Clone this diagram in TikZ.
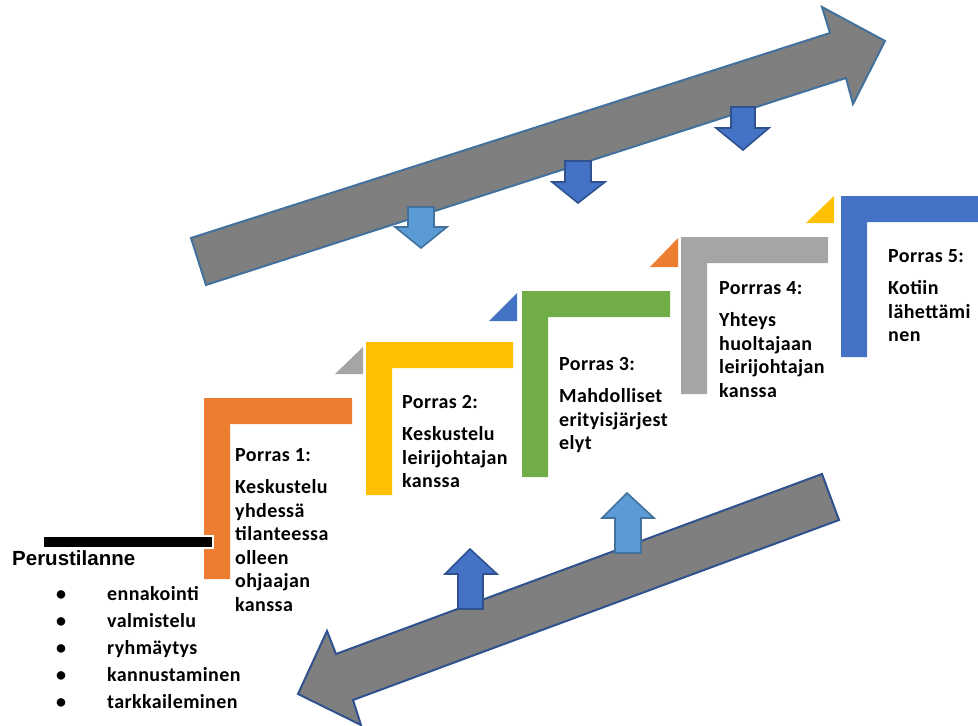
\documentclass[tikz,border=0pt]{standalone}
\usepackage{fontspec}
\setmainfont[LetterSpace=2]{Carlito}
\newfontfamily\arialfont{Liberation Sans}

\definecolor{stepOrange}{HTML}{ED7D31}
\definecolor{stepYellow}{HTML}{FFC000}
\definecolor{stepGreen}{HTML}{70AD47}
\definecolor{stepGray}{HTML}{A5A5A5}
\definecolor{stepBlue}{HTML}{4472C4}
\definecolor{lightBlue}{HTML}{5B9BD5}
\definecolor{darkLine}{HTML}{2F528F}
\definecolor{lightLine}{HTML}{41719C}
\definecolor{arrowGray}{HTML}{7F7F7F}

\tikzset{
  steptext/.style={anchor=north west, inner sep=0pt, align=left,
    font=\bfseries\fontsize{20}{23.5}\selectfont},
  bigarrow/.style={fill=arrowGray, line width=2pt, line join=miter},
  darkarrow/.style={fill=stepBlue, draw=darkLine, line width=1.6pt},
  lightarrow/.style={fill=lightBlue, draw=lightLine, line width=1.6pt},
}

\begin{document}
\begin{tikzpicture}[x=1pt, y=-1pt]
\useasboundingbox (0,0) rectangle (978,726);
%---------------------------------------------------------
%steps
\fill[stepOrange] (204,398) -- (352,398) -- (352,424) -- (230,424) -- (230,579) -- (204,579) -- cycle;
\fill[stepYellow] (366,342) -- (513,342) -- (513,368) -- (392,368) -- (392,495) -- (366,495) -- cycle;
\fill[stepGreen] (522,291) -- (670,291) -- (670,317) -- (548,317) -- (548,477) -- (522,477) -- cycle;
\fill[stepGray] (681,237) -- (828,237) -- (828,263) -- (707,263) -- (707,394) -- (681,394) -- cycle;
\fill[stepBlue] (841,196) -- (978,196) -- (978,222) -- (867,222) -- (867,357) -- (841,357) -- cycle;
%corner triangles
\fill[stepGray] (335,374) -- (363,374) -- (363,347) -- cycle;
\fill[stepBlue] (489,321) -- (517,321) -- (517,293) -- cycle;
\fill[stepOrange] (650,267) -- (678,267) -- (678,238) -- cycle;
\fill[stepYellow] (806,223) -- (834,223) -- (834,196) -- cycle;
%base line
\draw[fill=black, draw=white, line width=1.5pt] (43,536) rectangle (213,548);
%---------------------------------------------------------
%texts
\node[steptext] (porras1) at (235,443.5) {\rule{0pt}{18pt}Porras 1:\\[8.5pt]
  Keskustelu\\ yhdessä\\ tilanteessa\\ olleen\\ ohjaajan\\ kanssa};
\node[steptext] (porras2) at (402,390.5) {\rule{0pt}{18pt}Porras 2:\\[8.5pt]
  Keskustelu\\ leirijohtajan\\ kanssa};
\node[steptext] (porras3) at (559,352.5) {\rule{0pt}{18pt}Porras 3:\\[8.5pt]
  Mahdolliset\\ erityisjärjest\\ elyt};
\node[steptext] (porras4) at (719,276.5) {\rule{0pt}{18pt}Porrras 4:\\[8.5pt]
  Yhteys\\ huoltajaan\\ leirijohtajan\\ kanssa};
\node[steptext] (porras5) at (888,244.5) {\rule{0pt}{18pt}Porras 5:\\[8.5pt]
  Kotiin\\ lähettämi\\ nen};
\node[anchor=north west, inner sep=0pt,
  font=\arialfont\bfseries\fontsize{20.5}{23}\selectfont] (perus) at (12,547.4)
  {\rule{0pt}{18pt}Perustilanne};
\node[steptext, font=\bfseries\fontsize{20}{27}\selectfont] (lista) at (107,582.7)
  {\rule{0pt}{18pt}\llap{•\hspace{41pt}}ennakointi\\
   \llap{•\hspace{41pt}}valmistelu\\
   \llap{•\hspace{41pt}}ryhmäytys\\
   \llap{•\hspace{41pt}}kannustaminen\\
   \llap{•\hspace{41pt}}tarkkaileminen};
%---------------------------------------------------------
%big arrows
\draw[bigarrow, draw=lightLine] (191,238) -- (830,33) -- (822,7) -- (885,41) %head
  -- (853,104) -- (846,78) -- (206,285) -- cycle;
\draw[bigarrow, draw=darkLine] (822,474) -- (839,520) -- (353,700) -- (361,725) %head
  -- (298,694) -- (327,631) -- (336,654) -- cycle;
%small arrows down
\draw[lightarrow] (408,207) -- (434,207) -- (434,227) -- (447,227) -- (421,248) -- (395,227) -- (408,227) -- cycle;
\draw[darkarrow] (565,161) -- (591,161) -- (591,182) -- (605,182) -- (578,203) -- (552,182) -- (565,182) -- cycle;
\draw[darkarrow] (731,107) -- (755,107) -- (755,128) -- (769,128) -- (743,150) -- (716,128) -- (731,128) -- cycle;
%small arrows up
\draw[darkarrow] (458,609) -- (483,609) -- (483,574) -- (497,574) -- (470,549) -- (445,574) -- (458,574) -- cycle;
\draw[lightarrow] (615,553) -- (641,553) -- (641,518) -- (654,518) -- (627,493) -- (602,518) -- (615,518) -- cycle;
\end{tikzpicture}
\end{document}
